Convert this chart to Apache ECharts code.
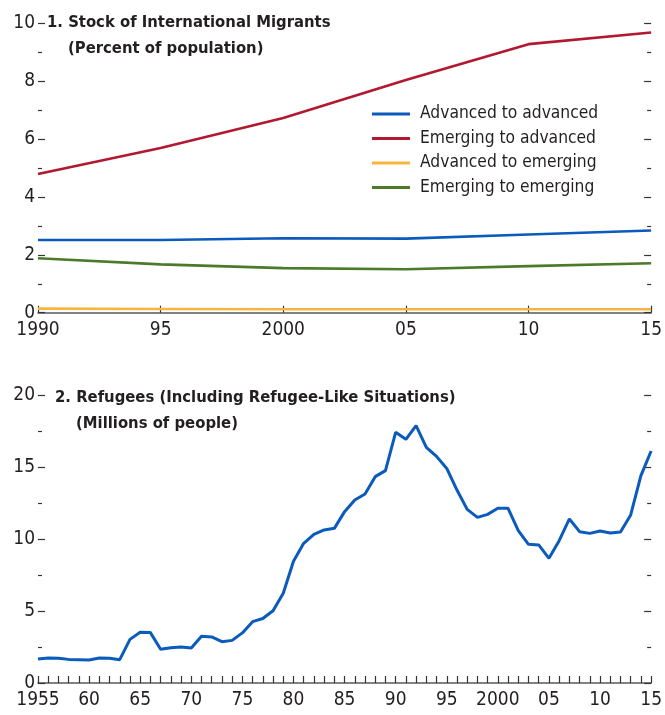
<!DOCTYPE html>
<html>
<head>
<meta charset="utf-8">
<script src="https://cdn.jsdelivr.net/npm/echarts@6/dist/echarts.min.js"></script>
<style>
html,body{margin:0;padding:0;background:#fff;}
#chart{width:665px;height:715px;}
</style>
</head>
<body>
<div id="chart"></div>
<script>
// ---- Panel 1: Stock of International Migrants (percent of population)
const migYears = [1990, 1995, 2000, 2005, 2010, 2015];
const advToAdv = [2.51, 2.51, 2.57, 2.56, 2.70, 2.84];
const emgToAdv = [4.79, 5.69, 6.73, 8.04, 9.28, 9.68];
const advToEmg = [0.14, 0.13, 0.12, 0.12, 0.12, 0.12];
const emgToEmg = [1.88, 1.67, 1.54, 1.50, 1.61, 1.71];
const migSeriesNames = ['Advanced to advanced', 'Emerging to advanced', 'Advanced to emerging', 'Emerging to emerging'];
const migXTickLabels = {1990: '1990', 1995: '95', 2000: '2000', 2005: '05', 2010: '10', 2015: '15'};
const migYTickLabels = {0: '0', 2: '2', 4: '4', 6: '6', 8: '8', 10: '10'};

// ---- Panel 2: Refugees (millions of people)
const refYears = [];
for (let y = 1955; y <= 2015; y++) refYears.push(y);
const refugees = [
  1.67, 1.74, 1.72, 1.64, 1.62, 1.60, 1.74, 1.72, 1.62, 3.03,
  3.52, 3.50, 2.34, 2.45, 2.50, 2.43, 3.24, 3.20, 2.87, 2.96,
  3.48, 4.26, 4.48, 5.02, 6.23, 8.45, 9.70, 10.32, 10.63, 10.74,
  11.90, 12.71, 13.13, 14.33, 14.75, 17.41, 16.92, 17.87, 16.37, 15.74,
  14.90, 13.40, 12.06, 11.50, 11.71, 12.13, 12.13, 10.58, 9.63, 9.59,
  8.66, 9.88, 11.39, 10.51, 10.39, 10.56, 10.42, 10.49, 11.67, 14.40,
  16.11
];
const refXTickLabels = {1955: '1955', 1960: '60', 1965: '65', 1970: '70', 1975: '75', 1980: '80', 1985: '85', 1990: '90', 1995: '95', 2000: '2000', 2005: '05', 2010: '10', 2015: '15'};
const refYTickLabels = {0: '0', 5: '5', 10: '10', 15: '15', 20: '20'};

const FONT = '"DejaVu Sans Condensed", "Liberation Sans", sans-serif';
const TXT = '#231f20';
const colors = ['#0a5bbb', '#b2182f', '#f7b53e', '#4b7a2a'];

function pairs(xs, ys) { return xs.map((x, i) => [x, ys[i]]); }

function xAxisCfg(grid, min, max, labels, minor) {
  return {
    type: 'value', gridIndex: grid, min: min, max: max, interval: 5,
    axisLine: {show: true, lineStyle: {color: '#5a5a5a', width: 1.6}},
    axisTick: {show: true, inside: true, length: 7, lineStyle: {color: '#333', width: 1.2}},
    minorTick: {show: !!minor, splitNumber: 5, length: 7, lineStyle: {color: '#333', width: 1.2}},
    axisLabel: {show: true, margin: 8, fontFamily: FONT, fontSize: 19, color: TXT,
      formatter: v => labels[v] !== undefined ? labels[v] : ''},
    splitLine: {show: false}, minorSplitLine: {show: false}
  };
}
function yAxisCfg(grid, max, interval, labels, pos) {
  return {
    type: 'value', gridIndex: grid, min: 0, max: max, interval: interval, position: pos,
    axisLine: {show: false},
    axisTick: {show: true, inside: true, length: 7, lineStyle: {color: '#333', width: 1.2}},
    minorTick: {show: true, splitNumber: 2, length: 4, lineStyle: {color: '#333', width: 1.2}},
    axisLabel: {show: pos === 'left', margin: 3, fontFamily: FONT, fontSize: 19, color: TXT,
      formatter: v => labels[v] !== undefined ? labels[v] : ''},
    splitLine: {show: false}, minorSplitLine: {show: false}
  };
}

const migData = [advToAdv, emgToAdv, advToEmg, emgToEmg];
const titleStyle = {fontFamily: FONT, fontSize: 16.5, fontWeight: 'bold', color: TXT};

const option = {
  animation: false,
  backgroundColor: '#fff',
  textStyle: {fontFamily: FONT},
  title: [
    {text: '1. Stock of International Migrants', left: 47, top: 14, padding: 0, textStyle: titleStyle},
    {text: '(Percent of population)', left: 68, top: 40, padding: 0, textStyle: titleStyle},
    {text: '2. Refugees (Including Refugee-Like Situations)', left: 55, top: 389, padding: 0, textStyle: titleStyle},
    {text: '(Millions of people)', left: 76, top: 415, padding: 0, textStyle: titleStyle}
  ],
  legend: {
    data: migSeriesNames, orient: 'vertical', left: 372, top: 104, padding: 0,
    icon: 'rect', itemWidth: 38, itemHeight: 3, itemGap: 4.5,
    textStyle: {fontFamily: FONT, fontSize: 17.3, color: TXT, lineHeight: 20, padding: [0, 0, 0, 5]}
  },
  grid: [
    {left: 38, right: 13, top: 23.3, height: 289.4},
    {left: 38, right: 13, top: 395, height: 288}
  ],
  xAxis: [
    xAxisCfg(0, 1990, 2015, migXTickLabels, false),
    xAxisCfg(1, 1955, 2015, refXTickLabels, true)
  ],
  yAxis: [
    yAxisCfg(0, 10, 2, migYTickLabels, 'left'),
    yAxisCfg(0, 10, 2, migYTickLabels, 'right'),
    yAxisCfg(1, 20, 5, refYTickLabels, 'left'),
    yAxisCfg(1, 20, 5, refYTickLabels, 'right')
  ],
  series: migSeriesNames.map((n, i) => ({
    name: n, type: 'line', xAxisIndex: 0, yAxisIndex: 0,
    data: pairs(migYears, migData[i]), symbol: 'none', smooth: false,
    lineStyle: {color: colors[i], width: 2.6}, itemStyle: {color: colors[i]}
  })).concat([{
    name: 'Refugees', type: 'line', xAxisIndex: 1, yAxisIndex: 2,
    data: pairs(refYears, refugees), symbol: 'none',
    lineStyle: {color: colors[0], width: 3}, itemStyle: {color: colors[0]}
  }])
};

const chart = echarts.init(document.getElementById('chart'), null, {renderer: 'canvas'});
chart.setOption(option);
</script>
</body>
</html>
